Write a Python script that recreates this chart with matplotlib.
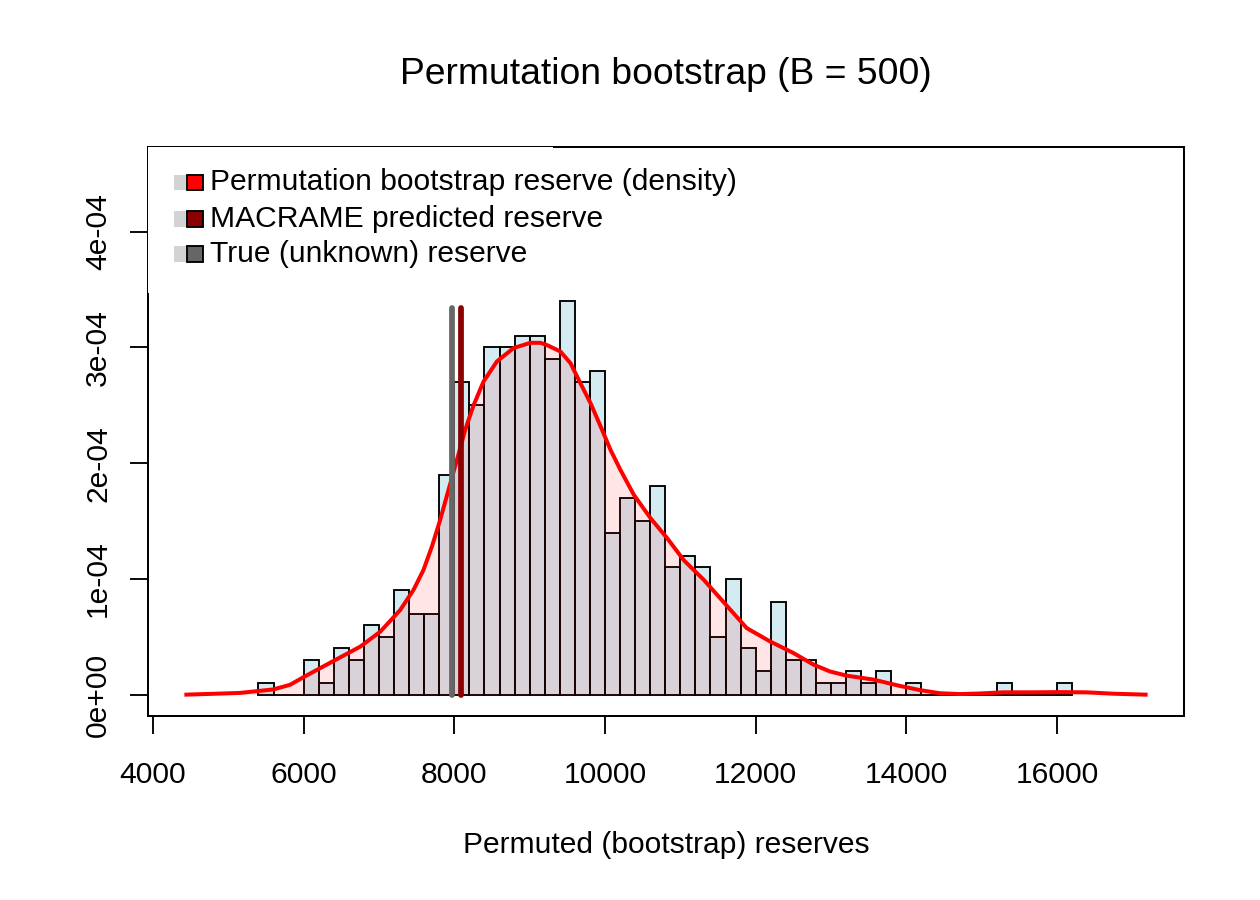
import numpy as np
import matplotlib
matplotlib.use("Agg")
import matplotlib.pyplot as plt
from matplotlib.patches import Rectangle

plt.rcParams['font.family'] = ['Liberation Sans', 'DejaVu Sans']

# ---------------- data ----------------
B = 500
bin_width = 200
first_bin = 5400
# histogram counts per 200-wide bin starting at 5400
counts = [1, 0, 0, 3, 1, 4, 3, 6, 5, 9,
          7, 7, 19, 27, 25, 30, 30, 31, 31, 29,
          34, 27, 28, 14, 17, 15, 18, 11, 12, 11,
          5, 10, 4, 2, 8, 3, 3, 1, 1, 2,
          1, 2, 0, 1, 0, 0, 0, 0, 0, 1,
          0, 0, 0, 1]

# density curve (density in units of 1e-5)
kde_x = [4443, 4933, 5155, 5597, 5819, 5995, 6393, 6749, 7015, 7281,
         7457, 7590, 7702, 7812, 7923, 8035, 8145, 8255, 8388, 8566,
         8787, 9009, 9142, 9231, 9408, 9541, 9674, 9807, 9940, 10073,
         10206, 10383, 10605, 10827, 11048, 11314, 11669, 11881, 12190, 12500,
         12765, 12987, 13208, 13562, 13916, 14182, 14447, 14713, 14978, 15288,
         15642, 16040, 16394, 16748, 17176]
kde_y_e5 = [0.0, 0.1, 0.15, 0.45, 0.85, 1.5, 2.9, 4.14, 5.43, 7.31,
            9.04, 10.77, 12.79, 15.1, 17.7, 20.3, 22.9, 25.0, 27.06, 28.8,
            29.95, 30.4, 30.4, 30.2, 29.65, 28.65, 26.9, 25.2, 23.2, 21.15,
            19.4, 17.26, 15.24, 13.5, 11.6, 9.9, 7.3, 5.75, 4.6, 3.6,
            2.6, 2.0, 1.64, 1.3, 0.75, 0.39, 0.12, 0.05, 0.1, 0.2,
            0.2, 0.22, 0.2, 0.08, 0.0]

true_reserve = 7965
macrame_reserve = 8085
marker_top = 3.34e-4

xticks = [4000, 6000, 8000, 10000, 12000, 14000, 16000]
yticks = [0, 1e-4, 2e-4, 3e-4, 4e-4]
ytick_labels = ["0e+00", "1e-04", "2e-04", "3e-04", "4e-04"]

legend_labels = ["Permutation bootstrap reserve (density)",
                 "MACRAME predicted reserve",
                 "True (unknown) reserve"]
legend_colors = ["#FF0000", "#8B0000", "#666666"]

title = "Permutation bootstrap (B = 500)"
xlabel = "Permuted (bootstrap) reserves"

# ---------------- figure ----------------
W, H = 1260, 900
fig = plt.figure(figsize=(7, 5), dpi=180)
ax = fig.add_axes([148 / W, 1 - 715.7 / H, (1184 - 148) / W, (715.7 - 147) / H])

bin_starts = first_bin + bin_width * np.arange(len(counts))
dens = np.array(counts) / (B * bin_width)
ax.bar(bin_starts, dens, width=bin_width, align='edge',
       color=(173 / 255, 216 / 255, 230 / 255, 0.5),
       edgecolor='black', linewidth=0.75, zorder=1)

kx = np.array(kde_x)
ky = np.array(kde_y_e5) * 1e-5
ax.fill_between(kx, ky, 0, color=(1, 0, 0, 0.1), linewidth=0, zorder=2)
ax.plot(kx, ky, color='red', lw=1.6, zorder=3, solid_joinstyle='round')

ax.plot([true_reserve, true_reserve], [0, marker_top], color='#666666',
        lw=2.3, solid_capstyle='round', zorder=4)
ax.plot([macrame_reserve, macrame_reserve], [0, marker_top], color='#8B0000',
        lw=2.3, solid_capstyle='round', zorder=4)

# R-like axis ranges (4% padding)
x0, x1 = 4443, 17176
ax.set_xlim(x0 - 0.04 * (x1 - x0), x1 + 0.04 * (x1 - x0))
y1 = 4.55e-4
ax.set_ylim(-0.04 * y1, 1.04 * y1)

ax.set_xticks(xticks)
ax.set_xticklabels([str(t) for t in xticks], fontsize=12)
ax.set_yticks(yticks)
ax.set_yticklabels(ytick_labels, fontsize=12, rotation=90, va='center')
ax.tick_params(axis='x', direction='out', length=7.2, width=0.75, pad=11)
ax.tick_params(axis='y', direction='out', length=7.4, width=0.75, pad=7)
for s in ax.spines.values():
    s.set_linewidth(0.8)

ax.set_title(title, fontsize=14.9, y=1 + (147 - 75) / 568.7, pad=0, va='center')
ax.set_xlabel(xlabel, fontsize=12)
ax.xaxis.set_label_coords(0.5, -(845 - 715.7) / 568.7)
ax.xaxis.label.set_va('center')

# ---------------- legend (R style, top-left, white background, no border) ----------------
def fx(px):
    return px / W

def fy(py):
    return 1 - py / H

fig.add_artist(Rectangle((fx(148.2), fy(293)), fx(553) - fx(148.2), fy(147.2) - fy(293),
                         transform=fig.transFigure, facecolor='white',
                         edgecolor='none', zorder=5))
row_centers = [182.5, 219.0, 254.0]
for lab, col, yc in zip(legend_labels, legend_colors, row_centers):
    fig.add_artist(Rectangle((fx(174), fy(yc + 7.5)), fx(186) - fx(174), fy(yc - 7.5) - fy(yc + 7.5),
                             transform=fig.transFigure, facecolor='#d3d3d3',
                             edgecolor='none', zorder=6))
    fig.add_artist(Rectangle((fx(186.7), fy(yc + 7.5)), fx(202.7) - fx(186.7), fy(yc - 7.5) - fy(yc + 7.5),
                             transform=fig.transFigure, facecolor=col,
                             edgecolor='black', linewidth=0.75, zorder=7))
    fig.text(fx(209.5), fy(yc), lab, fontsize=12, va='center', ha='left', zorder=8)

fig.savefig("out.png", dpi=180)
